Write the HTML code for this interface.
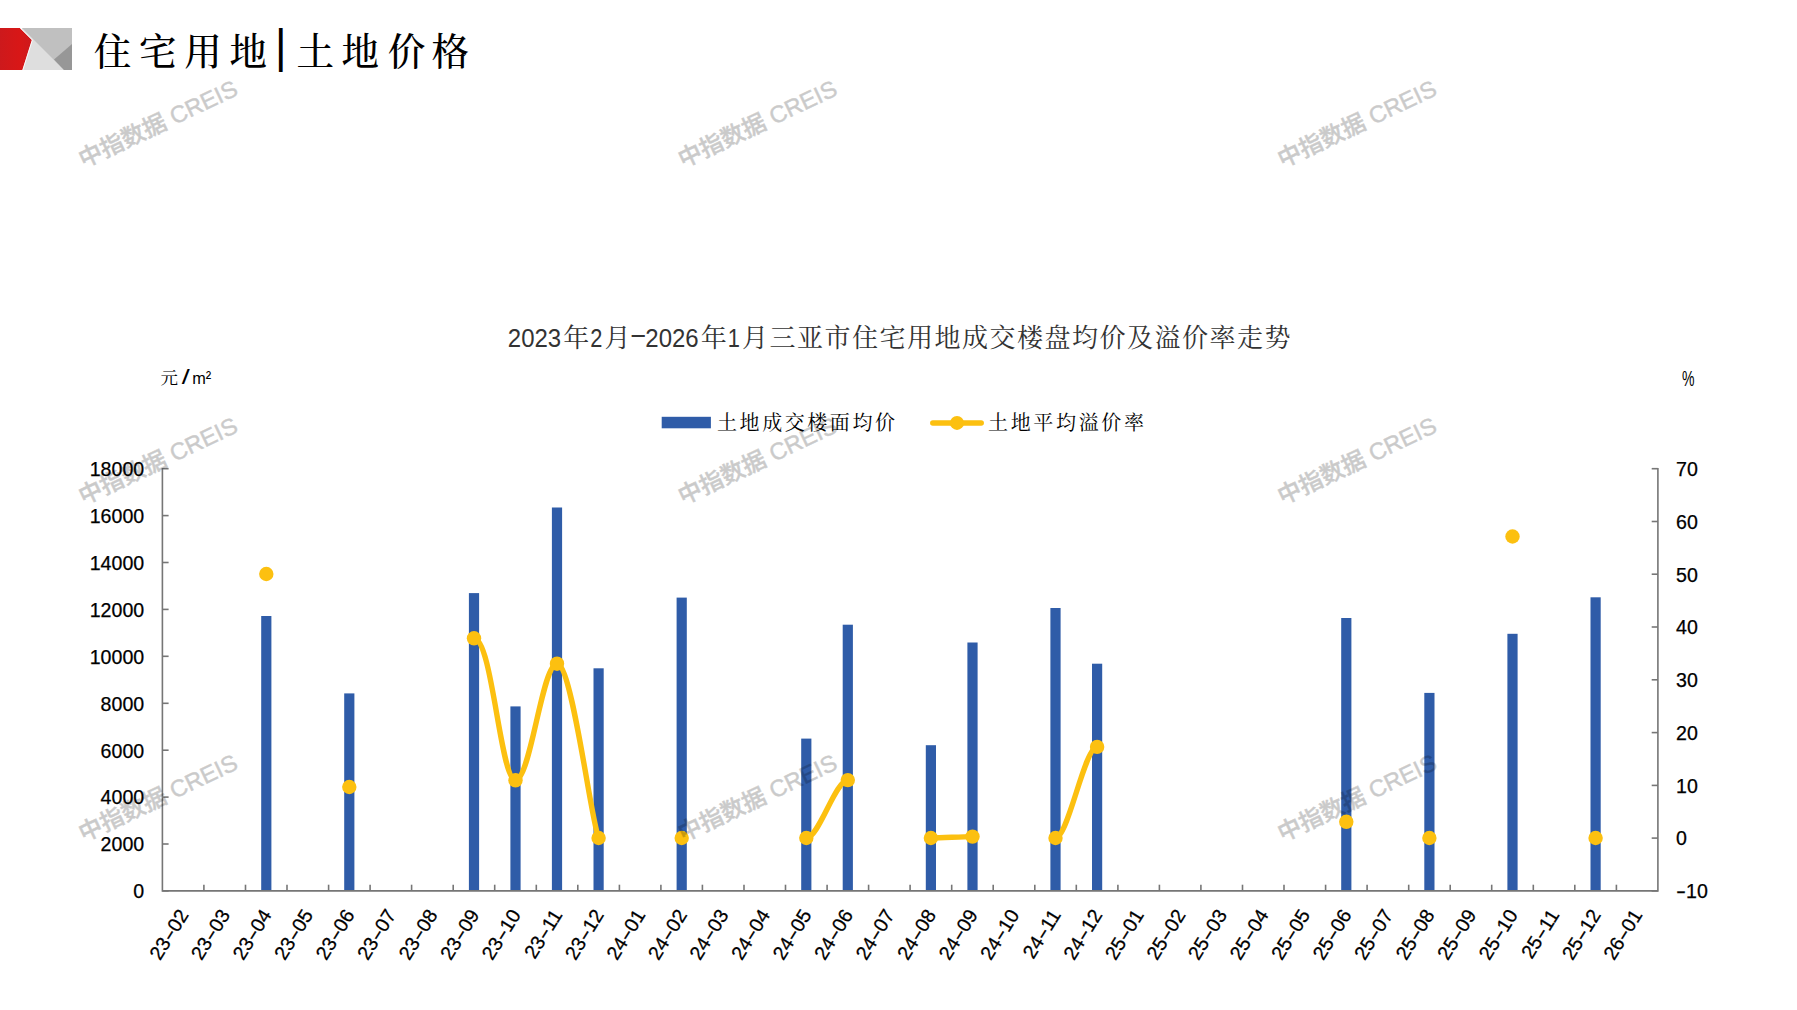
<!DOCTYPE html>
<html lang="zh-CN"><head><meta charset="utf-8"><title>住宅用地|土地价格</title>
<style>html,body{margin:0;padding:0;background:#fff;}body{width:1797px;height:1010px;overflow:hidden;position:relative;}svg{position:absolute;left:0;top:0;display:block;}
.yl{font-family:"Liberation Sans", "Noto Sans CJK SC", sans-serif;font-size:19.6px;fill:#000;stroke:#000;stroke-width:0.25px;}
.xl{font-family:"Liberation Sans", "Noto Sans CJK SC", sans-serif;font-size:19.6px;fill:#000;stroke:#000;stroke-width:0.25px;}
.wm{font-family:"Liberation Sans", "Noto Sans CJK SC", sans-serif;font-size:23.5px;font-weight:500;fill:#000;stroke:#000;stroke-width:0.5px;opacity:0.205;}
</style></head><body>
<svg width="1797" height="1010" viewBox="0 0 1797 1010">
<rect x="0" y="0" width="1797" height="1010" fill="#ffffff"/>
<defs><linearGradient id="rg" x1="0" y1="0" x2="1" y2="0"><stop offset="0" stop-color="#cd191c"/><stop offset="0.6" stop-color="#d81717"/><stop offset="1" stop-color="#cd191c"/></linearGradient></defs>
<g id="logo">
<rect x="22" y="28" width="50" height="42" fill="#dedede"/>
<polygon points="22,28 72,28 72,70 64,70" fill="#c0c0c0"/>
<polygon points="72,44 54,59.5 64,70 72,70" fill="#979797"/>
<polygon points="0,28 20,28 32,40 22.5,70 0,70" fill="url(#rg)"/><polyline points="20.3,28 32.3,40 22.8,70" fill="none" stroke="#fff" stroke-width="0.9"/>
</g>
<text y="64.7" font-family='"Liberation Serif", "Noto Serif CJK SC", serif' font-size="37.5" font-weight="500" fill="#000"><tspan x="93.8 139.1 184.2 229.4">住宅用地</tspan><tspan x="276.8" y="61.8" font-family='"Liberation Sans", sans-serif' font-size="47" font-weight="700" textLength="8" lengthAdjust="spacingAndGlyphs">|</tspan><tspan x="296.6 341.6 387.8 431.6" y="64.7">土地价格</tspan></text>
<text y="347" font-family='"Liberation Sans", "Noto Serif CJK SC", serif' font-size="26" fill="#333"><tspan x="507.80" y="347" font-size="26.4" textLength="53.40" lengthAdjust="spacingAndGlyphs">2023</tspan><tspan x="563.30" y="347">年</tspan><tspan x="590.30" y="347" font-size="26.4" textLength="12.15" lengthAdjust="spacingAndGlyphs">2</tspan><tspan x="604.55" y="347">月</tspan><tspan x="629.15" y="343.2" font-size="26.4" textLength="17.95" lengthAdjust="spacingAndGlyphs">-</tspan><tspan x="645.30" y="347" font-size="26.4" textLength="53.40" lengthAdjust="spacingAndGlyphs">2026</tspan><tspan x="700.80" y="347">年</tspan><tspan x="727.80" y="347" font-size="26.4" textLength="12.15" lengthAdjust="spacingAndGlyphs">1</tspan><tspan x="742.05" y="347">月</tspan><tspan x="769.55 797.05 824.55 852.05 879.55 907.05 934.55 962.05 989.55 1017.05 1044.55 1072.05 1099.55 1127.05 1154.55 1182.05 1209.55 1237.05 1264.55" y="347">三亚市住宅用地成交楼盘均价及溢价率走势</tspan></text>
<text y="384.3" font-family='"Liberation Sans", "Noto Serif CJK SC", serif' fill="#000"><tspan x="160.6" font-size="17.5">元</tspan><tspan x="181.8" font-size="20.5" textLength="8" lengthAdjust="spacingAndGlyphs">/</tspan><tspan x="192.3" font-size="17" textLength="19" lengthAdjust="spacingAndGlyphs">m²</tspan></text>
<text x="1682" y="385.8" font-family='"Liberation Sans", "Noto Sans CJK SC", sans-serif' font-size="22" fill="#000" textLength="12.5" lengthAdjust="spacingAndGlyphs">%</text>
<rect x="661.7" y="416.8" width="49.2" height="11.5" fill="#2f5ca8"/>
<text x="717" y="430" font-family='"Liberation Serif", "Noto Serif CJK SC", serif' font-size="20" fill="#000" textLength="178" lengthAdjust="spacing">土地成交楼面均价</text>
<line x1="932.8" y1="422.9" x2="981.2" y2="422.9" stroke="#fcc010" stroke-width="5.5" stroke-linecap="round"/>
<circle cx="957" cy="422.9" r="7" fill="#fcc010"/>
<text x="988" y="430" font-family='"Liberation Serif", "Noto Serif CJK SC", serif' font-size="20" fill="#000" textLength="156" lengthAdjust="spacing">土地平均溢价率</text>
<g id="bars" fill="#2f5ca8">
<rect x="261.2" y="616.0" width="10.2" height="274.9"/>
<rect x="344.2" y="693.4" width="10.2" height="197.5"/>
<rect x="468.9" y="593.1" width="10.2" height="297.8"/>
<rect x="510.4" y="706.4" width="10.2" height="184.5"/>
<rect x="551.9" y="507.5" width="10.2" height="383.4"/>
<rect x="593.5" y="668.3" width="10.2" height="222.6"/>
<rect x="676.6" y="597.6" width="10.2" height="293.3"/>
<rect x="801.2" y="738.6" width="10.2" height="152.3"/>
<rect x="842.7" y="624.7" width="10.2" height="266.2"/>
<rect x="925.8" y="745.2" width="10.2" height="145.7"/>
<rect x="967.4" y="642.5" width="10.2" height="248.4"/>
<rect x="1050.4" y="608.0" width="10.2" height="282.9"/>
<rect x="1092.0" y="663.7" width="10.2" height="227.2"/>
<rect x="1341.2" y="618.0" width="10.2" height="272.9"/>
<rect x="1424.3" y="692.9" width="10.2" height="198.0"/>
<rect x="1507.4" y="633.8" width="10.2" height="257.1"/>
<rect x="1590.5" y="597.3" width="10.2" height="293.6"/>
</g>
<g id="axes" stroke="#767676" stroke-width="1.6" fill="none">
<path d="M162.4 468.0 V890.9 H1657.9 V468.0"/>
<line x1="162.4" y1="890.9" x2="168.6" y2="890.9"/>
<line x1="162.4" y1="844.0" x2="168.6" y2="844.0"/>
<line x1="162.4" y1="797.1" x2="168.6" y2="797.1"/>
<line x1="162.4" y1="750.2" x2="168.6" y2="750.2"/>
<line x1="162.4" y1="703.3" x2="168.6" y2="703.3"/>
<line x1="162.4" y1="656.3" x2="168.6" y2="656.3"/>
<line x1="162.4" y1="609.4" x2="168.6" y2="609.4"/>
<line x1="162.4" y1="562.5" x2="168.6" y2="562.5"/>
<line x1="162.4" y1="515.6" x2="168.6" y2="515.6"/>
<line x1="162.4" y1="468.7" x2="168.6" y2="468.7"/>
<line x1="1651.7" y1="890.9" x2="1657.9" y2="890.9"/>
<line x1="1651.7" y1="838.1" x2="1657.9" y2="838.1"/>
<line x1="1651.7" y1="785.4" x2="1657.9" y2="785.4"/>
<line x1="1651.7" y1="732.6" x2="1657.9" y2="732.6"/>
<line x1="1651.7" y1="679.8" x2="1657.9" y2="679.8"/>
<line x1="1651.7" y1="627.0" x2="1657.9" y2="627.0"/>
<line x1="1651.7" y1="574.2" x2="1657.9" y2="574.2"/>
<line x1="1651.7" y1="521.5" x2="1657.9" y2="521.5"/>
<line x1="1651.7" y1="468.7" x2="1657.9" y2="468.7"/>
<line x1="203.9" y1="884.7" x2="203.9" y2="890.9"/>
<line x1="245.5" y1="884.7" x2="245.5" y2="890.9"/>
<line x1="287.0" y1="884.7" x2="287.0" y2="890.9"/>
<line x1="328.6" y1="884.7" x2="328.6" y2="890.9"/>
<line x1="370.1" y1="884.7" x2="370.1" y2="890.9"/>
<line x1="411.6" y1="884.7" x2="411.6" y2="890.9"/>
<line x1="453.2" y1="884.7" x2="453.2" y2="890.9"/>
<line x1="494.7" y1="884.7" x2="494.7" y2="890.9"/>
<line x1="536.3" y1="884.7" x2="536.3" y2="890.9"/>
<line x1="577.8" y1="884.7" x2="577.8" y2="890.9"/>
<line x1="619.4" y1="884.7" x2="619.4" y2="890.9"/>
<line x1="660.9" y1="884.7" x2="660.9" y2="890.9"/>
<line x1="702.4" y1="884.7" x2="702.4" y2="890.9"/>
<line x1="744.0" y1="884.7" x2="744.0" y2="890.9"/>
<line x1="785.5" y1="884.7" x2="785.5" y2="890.9"/>
<line x1="827.1" y1="884.7" x2="827.1" y2="890.9"/>
<line x1="868.6" y1="884.7" x2="868.6" y2="890.9"/>
<line x1="910.1" y1="884.7" x2="910.1" y2="890.9"/>
<line x1="951.7" y1="884.7" x2="951.7" y2="890.9"/>
<line x1="993.2" y1="884.7" x2="993.2" y2="890.9"/>
<line x1="1034.8" y1="884.7" x2="1034.8" y2="890.9"/>
<line x1="1076.3" y1="884.7" x2="1076.3" y2="890.9"/>
<line x1="1117.9" y1="884.7" x2="1117.9" y2="890.9"/>
<line x1="1159.4" y1="884.7" x2="1159.4" y2="890.9"/>
<line x1="1200.9" y1="884.7" x2="1200.9" y2="890.9"/>
<line x1="1242.5" y1="884.7" x2="1242.5" y2="890.9"/>
<line x1="1284.0" y1="884.7" x2="1284.0" y2="890.9"/>
<line x1="1325.6" y1="884.7" x2="1325.6" y2="890.9"/>
<line x1="1367.1" y1="884.7" x2="1367.1" y2="890.9"/>
<line x1="1408.7" y1="884.7" x2="1408.7" y2="890.9"/>
<line x1="1450.2" y1="884.7" x2="1450.2" y2="890.9"/>
<line x1="1491.7" y1="884.7" x2="1491.7" y2="890.9"/>
<line x1="1533.3" y1="884.7" x2="1533.3" y2="890.9"/>
<line x1="1574.8" y1="884.7" x2="1574.8" y2="890.9"/>
<line x1="1616.4" y1="884.7" x2="1616.4" y2="890.9"/>
</g>
<text class="yl" x="144.2" y="898.2" text-anchor="end">0</text>
<text class="yl" x="144.2" y="851.3" text-anchor="end">2000</text>
<text class="yl" x="144.2" y="804.4" text-anchor="end">4000</text>
<text class="yl" x="144.2" y="757.5" text-anchor="end">6000</text>
<text class="yl" x="144.2" y="710.6" text-anchor="end">8000</text>
<text class="yl" x="144.2" y="663.6" text-anchor="end">10000</text>
<text class="yl" x="144.2" y="616.7" text-anchor="end">12000</text>
<text class="yl" x="144.2" y="569.8" text-anchor="end">14000</text>
<text class="yl" x="144.2" y="522.9" text-anchor="end">16000</text>
<text class="yl" x="144.2" y="476.0" text-anchor="end">18000</text>
<text class="yl" x="1676" y="898.2"><tspan textLength="10" lengthAdjust="spacingAndGlyphs">-</tspan>10</text>
<text class="yl" x="1676" y="845.4">0</text>
<text class="yl" x="1676" y="792.6">10</text>
<text class="yl" x="1676" y="739.9">20</text>
<text class="yl" x="1676" y="687.1">30</text>
<text class="yl" x="1676" y="634.3">40</text>
<text class="yl" x="1676" y="581.5">50</text>
<text class="yl" x="1676" y="528.8">60</text>
<text class="yl" x="1676" y="476.0">70</text>
<text class="xl" transform="translate(189.2 914.7) rotate(-58)" text-anchor="end">23<tspan textLength="11.4" lengthAdjust="spacingAndGlyphs">-</tspan>02</text>
<text class="xl" transform="translate(230.7 914.7) rotate(-58)" text-anchor="end">23<tspan textLength="11.4" lengthAdjust="spacingAndGlyphs">-</tspan>03</text>
<text class="xl" transform="translate(272.3 914.7) rotate(-58)" text-anchor="end">23<tspan textLength="11.4" lengthAdjust="spacingAndGlyphs">-</tspan>04</text>
<text class="xl" transform="translate(313.8 914.7) rotate(-58)" text-anchor="end">23<tspan textLength="11.4" lengthAdjust="spacingAndGlyphs">-</tspan>05</text>
<text class="xl" transform="translate(355.3 914.7) rotate(-58)" text-anchor="end">23<tspan textLength="11.4" lengthAdjust="spacingAndGlyphs">-</tspan>06</text>
<text class="xl" transform="translate(396.9 914.7) rotate(-58)" text-anchor="end">23<tspan textLength="11.4" lengthAdjust="spacingAndGlyphs">-</tspan>07</text>
<text class="xl" transform="translate(438.4 914.7) rotate(-58)" text-anchor="end">23<tspan textLength="11.4" lengthAdjust="spacingAndGlyphs">-</tspan>08</text>
<text class="xl" transform="translate(480.0 914.7) rotate(-58)" text-anchor="end">23<tspan textLength="11.4" lengthAdjust="spacingAndGlyphs">-</tspan>09</text>
<text class="xl" transform="translate(521.5 914.7) rotate(-58)" text-anchor="end">23<tspan textLength="11.4" lengthAdjust="spacingAndGlyphs">-</tspan>10</text>
<text class="xl" transform="translate(563.0 914.7) rotate(-58)" text-anchor="end">23<tspan textLength="11.4" lengthAdjust="spacingAndGlyphs">-</tspan>11</text>
<text class="xl" transform="translate(604.6 914.7) rotate(-58)" text-anchor="end">23<tspan textLength="11.4" lengthAdjust="spacingAndGlyphs">-</tspan>12</text>
<text class="xl" transform="translate(646.1 914.7) rotate(-58)" text-anchor="end">24<tspan textLength="11.4" lengthAdjust="spacingAndGlyphs">-</tspan>01</text>
<text class="xl" transform="translate(687.7 914.7) rotate(-58)" text-anchor="end">24<tspan textLength="11.4" lengthAdjust="spacingAndGlyphs">-</tspan>02</text>
<text class="xl" transform="translate(729.2 914.7) rotate(-58)" text-anchor="end">24<tspan textLength="11.4" lengthAdjust="spacingAndGlyphs">-</tspan>03</text>
<text class="xl" transform="translate(770.8 914.7) rotate(-58)" text-anchor="end">24<tspan textLength="11.4" lengthAdjust="spacingAndGlyphs">-</tspan>04</text>
<text class="xl" transform="translate(812.3 914.7) rotate(-58)" text-anchor="end">24<tspan textLength="11.4" lengthAdjust="spacingAndGlyphs">-</tspan>05</text>
<text class="xl" transform="translate(853.8 914.7) rotate(-58)" text-anchor="end">24<tspan textLength="11.4" lengthAdjust="spacingAndGlyphs">-</tspan>06</text>
<text class="xl" transform="translate(895.4 914.7) rotate(-58)" text-anchor="end">24<tspan textLength="11.4" lengthAdjust="spacingAndGlyphs">-</tspan>07</text>
<text class="xl" transform="translate(936.9 914.7) rotate(-58)" text-anchor="end">24<tspan textLength="11.4" lengthAdjust="spacingAndGlyphs">-</tspan>08</text>
<text class="xl" transform="translate(978.5 914.7) rotate(-58)" text-anchor="end">24<tspan textLength="11.4" lengthAdjust="spacingAndGlyphs">-</tspan>09</text>
<text class="xl" transform="translate(1020.0 914.7) rotate(-58)" text-anchor="end">24<tspan textLength="11.4" lengthAdjust="spacingAndGlyphs">-</tspan>10</text>
<text class="xl" transform="translate(1061.5 914.7) rotate(-58)" text-anchor="end">24<tspan textLength="11.4" lengthAdjust="spacingAndGlyphs">-</tspan>11</text>
<text class="xl" transform="translate(1103.1 914.7) rotate(-58)" text-anchor="end">24<tspan textLength="11.4" lengthAdjust="spacingAndGlyphs">-</tspan>12</text>
<text class="xl" transform="translate(1144.6 914.7) rotate(-58)" text-anchor="end">25<tspan textLength="11.4" lengthAdjust="spacingAndGlyphs">-</tspan>01</text>
<text class="xl" transform="translate(1186.2 914.7) rotate(-58)" text-anchor="end">25<tspan textLength="11.4" lengthAdjust="spacingAndGlyphs">-</tspan>02</text>
<text class="xl" transform="translate(1227.7 914.7) rotate(-58)" text-anchor="end">25<tspan textLength="11.4" lengthAdjust="spacingAndGlyphs">-</tspan>03</text>
<text class="xl" transform="translate(1269.3 914.7) rotate(-58)" text-anchor="end">25<tspan textLength="11.4" lengthAdjust="spacingAndGlyphs">-</tspan>04</text>
<text class="xl" transform="translate(1310.8 914.7) rotate(-58)" text-anchor="end">25<tspan textLength="11.4" lengthAdjust="spacingAndGlyphs">-</tspan>05</text>
<text class="xl" transform="translate(1352.3 914.7) rotate(-58)" text-anchor="end">25<tspan textLength="11.4" lengthAdjust="spacingAndGlyphs">-</tspan>06</text>
<text class="xl" transform="translate(1393.9 914.7) rotate(-58)" text-anchor="end">25<tspan textLength="11.4" lengthAdjust="spacingAndGlyphs">-</tspan>07</text>
<text class="xl" transform="translate(1435.4 914.7) rotate(-58)" text-anchor="end">25<tspan textLength="11.4" lengthAdjust="spacingAndGlyphs">-</tspan>08</text>
<text class="xl" transform="translate(1477.0 914.7) rotate(-58)" text-anchor="end">25<tspan textLength="11.4" lengthAdjust="spacingAndGlyphs">-</tspan>09</text>
<text class="xl" transform="translate(1518.5 914.7) rotate(-58)" text-anchor="end">25<tspan textLength="11.4" lengthAdjust="spacingAndGlyphs">-</tspan>10</text>
<text class="xl" transform="translate(1560.0 914.7) rotate(-58)" text-anchor="end">25<tspan textLength="11.4" lengthAdjust="spacingAndGlyphs">-</tspan>11</text>
<text class="xl" transform="translate(1601.6 914.7) rotate(-58)" text-anchor="end">25<tspan textLength="11.4" lengthAdjust="spacingAndGlyphs">-</tspan>12</text>
<text class="xl" transform="translate(1643.1 914.7) rotate(-58)" text-anchor="end">26<tspan textLength="11.4" lengthAdjust="spacingAndGlyphs">-</tspan>01</text>
<g id="line" stroke="#fcc010" stroke-width="5.4" fill="none" stroke-linecap="round" stroke-linejoin="round">
<path d="M474.0 638.3 C492.2 638.3 500.5 780.3 515.5 780.3 C530.5 780.3 542.1 663.7 557.0 663.7 C572.0 663.7 590.3 817.1 598.6 838.0"/>
<path d="M806.3 838.0 C818.8 838.0 835.4 780.1 847.8 780.1"/>
<path d="M930.9 838.0 C943.4 838.0 960.0 836.6 972.5 836.6"/>
<path d="M1055.5 838.0 C1068.0 838.0 1084.6 746.9 1097.1 746.9"/>
</g>
<g id="dots" fill="#fcc010">
<circle cx="266.3" cy="574.0" r="7.2"/>
<circle cx="349.3" cy="787.0" r="7.2"/>
<circle cx="474.0" cy="638.3" r="7.2"/>
<circle cx="515.5" cy="780.3" r="7.2"/>
<circle cx="557.0" cy="663.7" r="7.2"/>
<circle cx="598.6" cy="838.0" r="7.2"/>
<circle cx="681.7" cy="838.0" r="7.2"/>
<circle cx="806.3" cy="838.0" r="7.2"/>
<circle cx="847.8" cy="780.1" r="7.2"/>
<circle cx="930.9" cy="838.0" r="7.2"/>
<circle cx="972.5" cy="836.6" r="7.2"/>
<circle cx="1055.5" cy="838.0" r="7.2"/>
<circle cx="1097.1" cy="746.9" r="7.2"/>
<circle cx="1346.3" cy="821.8" r="7.2"/>
<circle cx="1429.4" cy="838.0" r="7.2"/>
<circle cx="1512.5" cy="536.5" r="7.2"/>
<circle cx="1595.6" cy="838.0" r="7.2"/>
</g>
<g id="wm">
<text class="wm" transform="translate(158.0 124.0) rotate(-25.3)" text-anchor="middle" y="8">中指数据 CREIS</text>
<text class="wm" transform="translate(757.5 124.0) rotate(-25.3)" text-anchor="middle" y="8">中指数据 CREIS</text>
<text class="wm" transform="translate(1357.0 124.0) rotate(-25.3)" text-anchor="middle" y="8">中指数据 CREIS</text>
<text class="wm" transform="translate(158.0 461.0) rotate(-25.3)" text-anchor="middle" y="8">中指数据 CREIS</text>
<text class="wm" transform="translate(757.5 461.0) rotate(-25.3)" text-anchor="middle" y="8">中指数据 CREIS</text>
<text class="wm" transform="translate(1357.0 461.0) rotate(-25.3)" text-anchor="middle" y="8">中指数据 CREIS</text>
<text class="wm" transform="translate(158.0 798.0) rotate(-25.3)" text-anchor="middle" y="8">中指数据 CREIS</text>
<text class="wm" transform="translate(757.5 798.0) rotate(-25.3)" text-anchor="middle" y="8">中指数据 CREIS</text>
<text class="wm" transform="translate(1357.0 798.0) rotate(-25.3)" text-anchor="middle" y="8">中指数据 CREIS</text>
</g>
</svg>
</body></html>
